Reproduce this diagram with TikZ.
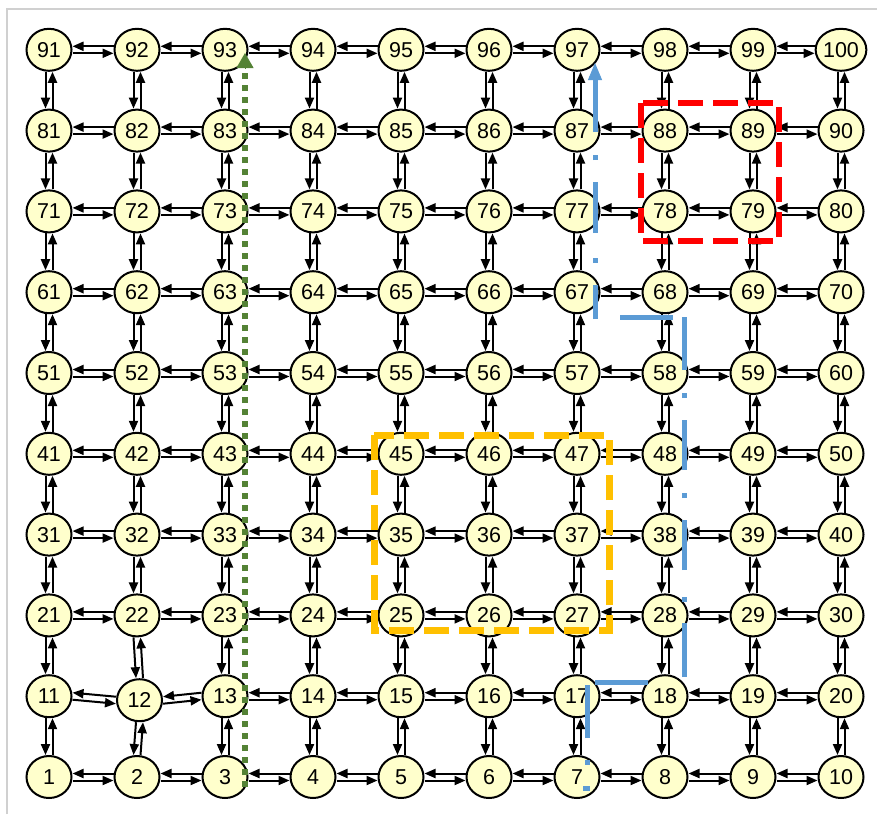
\documentclass[tikz,border=0pt]{standalone}
\usepackage{fontspec}
\setmainfont{Liberation Sans}
\usetikzlibrary{arrows.meta,shapes.geometric}
\definecolor{ndfill}{HTML}{FFFFCC}
\definecolor{pathblue}{HTML}{5B9BD5}
\definecolor{pathgreen}{HTML}{548235}
\definecolor{boxorange}{HTML}{FFC000}
\definecolor{framegray}{HTML}{D0D0D0}
\begin{document}
\begin{tikzpicture}[x=1pt,y=-1pt,
  nd/.style={ellipse,draw,line width=2pt,fill=ndfill,minimum width=45pt,minimum height=42pt,inner sep=0pt,font=\fontsize{21.5}{21.5}\selectfont},
  arr/.style={line width=2pt,-{Triangle[length=11pt,width=9pt]}},
  overlay blue/.style={pathblue,line width=5pt},
  overlay green/.style={pathgreen,line width=6pt},
  boxdash/.style={line width=6pt,dash pattern=on 25pt off 10pt}]
\useasboundingbox (0,0) rectangle (877,814);
\draw[framegray,line width=1.5pt] (7,814) -- (7,9) -- (877,9);
% nodes
\foreach \n in {1,...,100} {
  \pgfmathtruncatemacro\r{div(\n-1,10)}
  \pgfmathtruncatemacro\c{mod(\n-1,10)}
  \pgfmathsetmacro\dx{(\n==12)*2.5}
  \pgfmathsetmacro\dy{(\n==12)*4}
  \node[nd] (n\n) at ({49+88*\c+\dx},{777-80.8*\r+\dy}) {\n};
}
% connectors
\foreach \n in {1,...,100} {
  \pgfmathtruncatemacro\c{mod(\n-1,10)}
  \pgfmathtruncatemacro\m{\n+1}
  \pgfmathtruncatemacro\k{\n+10}
  \ifnum\c<9
    \draw[arr] ([yshift=3.5pt]n\m.west) -- ([yshift=3.5pt]n\n.east);
    \draw[arr] ([yshift=-3.5pt]n\n.east) -- ([yshift=-3.5pt]n\m.west);
  \fi
  \ifnum\n<91
    \draw[arr] ([xshift=-3.5pt]n\k.south) -- ([xshift=-3.5pt]n\n.north);
    \draw[arr] ([xshift=3.5pt]n\n.north) -- ([xshift=3.5pt]n\k.south);
  \fi
}
% overlays
\draw[boxdash,boxorange,line width=7pt] (374,435) rectangle (609,630);
\draw[boxdash,red] (641,103) rectangle (779,241);
\draw[overlay green,dash pattern=on 6pt off 6pt] (245,787) -- (245,68);
\draw[pathgreen,line width=1pt,-{Triangle[length=15pt 0 0,width=17pt 0 0]}] (245,68) -- (245,53);
% blue dash-dot route, piece by piece
\draw[overlay blue]
  (583,788) -- (590,788)
  (587,760) -- (587,765)
  (587,738) -- (587,685)
  (595,682) -- (648,682)
  (684,677) -- (684,623)
  (684,602) -- (684,597)
  (684,570) -- (684,520)
  (684,498) -- (684,493)
  (684,470) -- (684,420)
  (684,398) -- (684,393)
  (684,370) -- (684,317)
  (673,317) -- (620,317)
  (595,319) -- (595,285)
  (595,263) -- (595,258)
  (595,233) -- (595,182)
  (595,160) -- (595,155);
\draw[overlay blue] (595,132) -- (595,78);
\draw[pathblue,line width=1pt,-{Triangle[length=17pt 0 0,width=14pt 0 0]}] (595,80) -- (595,63);
\end{tikzpicture}
\end{document}
